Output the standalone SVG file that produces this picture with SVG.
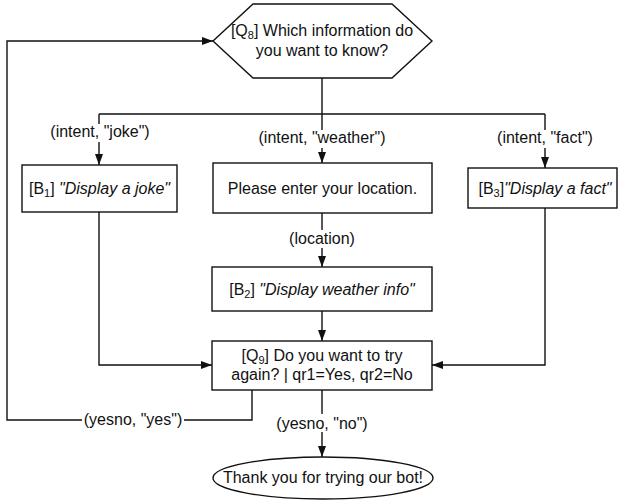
<svg xmlns="http://www.w3.org/2000/svg" width="618" height="500" viewBox="0 0 618 500">
<defs>
<marker id="arr" markerUnits="userSpaceOnUse" markerWidth="11" markerHeight="8" refX="11" refY="4" orient="auto">
<path d="M0,0 L11,4 L0,8 z" fill="#111"/>
</marker>
<style>
.shape{fill:#fff;stroke:#111;stroke-width:1.4}
.edge{fill:none;stroke:#111;stroke-width:1.4}
.t{font-family:"Liberation Sans",Arial,sans-serif;font-size:16px;fill:#111;text-anchor:middle}
.sub{font-size:11px}
.lb{fill:#fff;stroke:none}
</style>
</defs>
<rect width="618" height="500" fill="#fff"/>
<g id="connectors">
<path class="edge" d="M322,78 V114"/>
<path class="edge" d="M99,114 H545"/>
<path class="edge" d="M99,114 V165" marker-end="url(#arr)"/>
<path class="edge" d="M322,114 V163" marker-end="url(#arr)"/>
<path class="edge" d="M545,114 V168" marker-end="url(#arr)"/>
<path class="edge" d="M322,213 V267" marker-end="url(#arr)"/>
<path class="edge" d="M322,311 V341" marker-end="url(#arr)"/>
<path class="edge" d="M99,212 V365 H212" marker-end="url(#arr)"/>
<path class="edge" d="M545,208 V365 H432" marker-end="url(#arr)"/>
<path class="edge" d="M252,390 V420 H7 V41 H213" marker-end="url(#arr)"/>
<path class="edge" d="M322,390 V457" marker-end="url(#arr)"/>
<rect class="lb" x="48" y="124" width="104" height="18"/>
<text class="t" x="100" y="137">(intent, "joke")</text>
<rect class="lb" x="256" y="130" width="132" height="18"/>
<text class="t" x="322" y="143">(intent, "weather")</text>
<rect class="lb" x="495" y="130" width="100" height="18"/>
<text class="t" x="545" y="143">(intent, "fact")</text>
<rect class="lb" x="288" y="230" width="68" height="18"/>
<text class="t" x="322" y="244">(location)</text>
<rect class="lb" x="82" y="411" width="102" height="18"/>
<text class="t" x="133" y="425">(yesno, "yes")</text>
<rect class="lb" x="275" y="414" width="94" height="18"/>
<text class="t" x="322" y="429">(yesno, "no")</text>
</g>
<g id="q8">
<polygon class="shape" points="253,4 392,4 432,41 392,78 253,78 213,41"/>
<text class="t" x="322" y="36">[Q<tspan class="sub" dy="3">8</tspan><tspan dy="-3">] Which information do</tspan></text>
<text class="t" x="322" y="56">you want to know?</text>
</g>
<g id="b1">
<rect class="shape" x="22" y="165" width="155" height="47"/>
<text class="t" x="99.5" y="194">[B<tspan class="sub" dy="3">1</tspan><tspan dy="-3">] </tspan><tspan font-style="italic">"Display a joke"</tspan></text>
</g>
<g id="location">
<rect class="shape" x="213" y="163" width="219" height="50"/>
<text class="t" x="322.5" y="193.5">Please enter your location.</text>
</g>
<g id="b3">
<rect class="shape" x="468" y="168" width="149" height="40"/>
<text class="t" x="545" y="193.5">[B<tspan class="sub" dy="3">3</tspan><tspan dy="-3">]</tspan><tspan font-style="italic">"Display a fact"</tspan></text>
</g>
<g id="b2">
<rect class="shape" x="212" y="267" width="220" height="44"/>
<text class="t" x="322" y="294.5">[B<tspan class="sub" dy="3">2</tspan><tspan dy="-3">] </tspan><tspan font-style="italic">"Display weather info"</tspan></text>
</g>
<g id="q9">
<rect class="shape" x="212" y="341" width="220" height="49"/>
<text class="t" x="322" y="361">[Q<tspan class="sub" dy="3">9</tspan><tspan dy="-3">] Do you want to try</tspan></text>
<text class="t" x="322" y="380">again? | qr1=Yes, qr2=No</text>
</g>
<g id="end">
<ellipse class="shape" cx="323" cy="478" rx="110" ry="21"/>
<text class="t" x="323" y="483">Thank you for trying our bot!</text>
</g>
</svg>
